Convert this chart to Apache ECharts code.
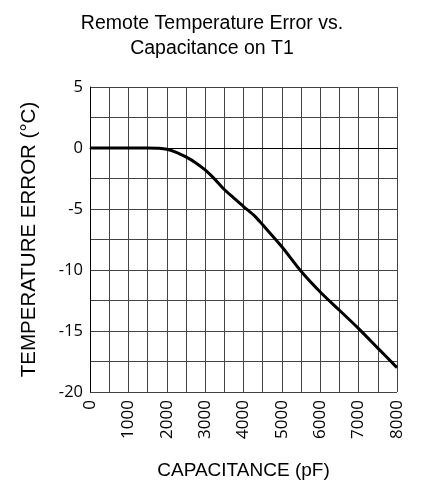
<!DOCTYPE html>
<html>
<head>
<meta charset="utf-8">
<script src="https://cdn.jsdelivr.net/npm/echarts@6/dist/echarts.min.js"></script>
<style>
  html, body { margin: 0; padding: 0; background: #fff; }
  #chart-container { width: 429px; height: 485px; }
</style>
</head>
<body>
<div id="chart-container"></div>
<script>
// capacitance in pF
var capacitance = [0, 500, 1000, 1500, 1800, 2000, 2250, 2500, 2750, 3000, 3250, 3500, 3750, 4000, 4300, 4500, 5000, 5500, 6000, 6500, 7000, 7500, 8000];
// temperature error in degC
var tempError = [0, 0, 0, 0, -0.02, -0.1, -0.35, -0.73, -1.2, -1.8, -2.55, -3.4, -4.1, -4.8, -5.6, -6.3, -8.1, -10.1, -11.8, -13.3, -14.8, -16.4, -18.0];

var titleText = "Remote Temperature Error vs.\nCapacitance on T1";
var xName = "CAPACITANCE (pF)";
var yName = "TEMPERATURE ERROR (°C)";

var points = capacitance.map(function (c, i) {
  return [c, tempError[i]];
});

var dom = document.getElementById("chart-container");
var myChart = echarts.init(dom, null, { renderer: "canvas" });

var gridColor = "#444";

myChart.setOption({
  animation: false,
  title: {
    text: titleText,
    left: 207,
    textAlign: "center",
    top: 6,
    textStyle: {
      fontFamily: "Liberation Sans",
      fontWeight: "normal",
      fontSize: 19.5,
      lineHeight: 25,
      color: "#000",
    },
  },
  grid: {
    left: 90,
    right: 32,
    top: 87,
    bottom: 90,
  },
  xAxis: {
    type: "value",
    min: 0,
    max: 8000,
    interval: 500,
    name: xName,
    nameLocation: "middle",
    nameGap: 69,
    nameTextStyle: { fontFamily: "Liberation Sans", fontSize: 19, color: "#000" },
    axisLine: { show: true, lineStyle: { color: "#000", width: 1 } },
    axisTick: { show: false },
    axisLabel: {
      interval: 1,
      rotate: 90,
      margin: 8,
      fontFamily: "Open Sans",
      fontSize: 17,
      color: "#000",
      formatter: function (v) { return v % 1000 === 0 ? String(v) : ""; },
    },
    splitLine: { show: true, lineStyle: { color: gridColor, width: 1 } },
  },
  yAxis: {
    type: "value",
    min: -20,
    max: 5,
    interval: 2.5,
    name: yName,
    nameLocation: "middle",
    nameGap: 50,
    nameTextStyle: { fontFamily: "Liberation Sans", fontSize: 20.5, color: "#000" },
    axisLine: { show: true, lineStyle: { color: "#000", width: 1 } },
    axisTick: { show: false },
    axisLabel: {
      margin: 7,
      fontFamily: "Open Sans",
      fontSize: 16.5,
      color: "#000",
      formatter: function (v) { return v % 5 === 0 ? String(v) : ""; },
    },
    splitLine: { show: true, lineStyle: { color: gridColor, width: 1 } },
  },
  series: [
    {
      type: "line",
      data: points,
      smooth: 0.3,
      showSymbol: false,
      lineStyle: { color: "#000", width: 3 },
    },
  ],
});

window.addEventListener("resize", myChart.resize);
</script>
</body>
</html>
